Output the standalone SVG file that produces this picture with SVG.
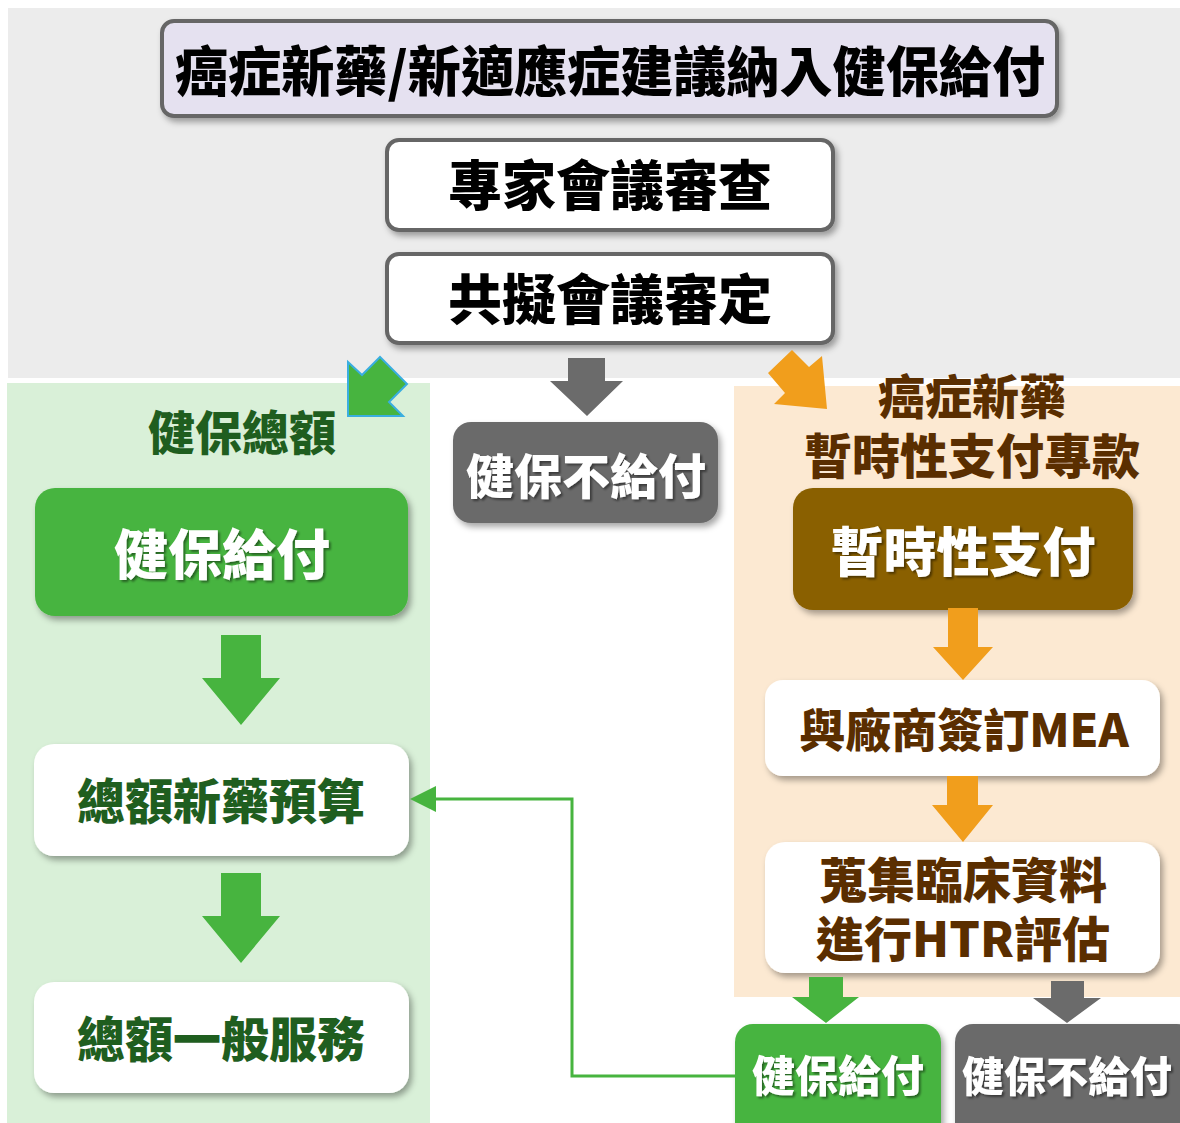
<svg xmlns="http://www.w3.org/2000/svg" width="1180" height="1123" viewBox="0 0 1180 1123">
<defs>
<filter id="sh" x="-10%" y="-10%" width="130%" height="140%"><feDropShadow dx="3" dy="4" stdDeviation="3" flood-color="#000" flood-opacity="0.35"/></filter>
<filter id="tsh" x="-5%" y="-5%" width="115%" height="120%"><feDropShadow dx="2" dy="2" stdDeviation="1.2" flood-color="#000" flood-opacity="0.45"/></filter>
<style>
text{font-family:"Noto Sans CJK TC","Noto Sans CJK SC",sans-serif;font-weight:900;text-anchor:middle}
.bx{stroke:#666;stroke-width:4}
.wt{fill:#fff}
.dg{fill:#1f5e1f}
.br{fill:#5a2e00}
.bk{fill:#000}
.green{fill:#47b43f}
.gray{fill:#6b6b6b}
.orange{fill:#f19e1c}
</style>
</defs>
<rect x="0" y="0" width="1180" height="1123" fill="#fff"/>
<rect x="8" y="8" width="1172" height="370" fill="#ececec"/>
<rect x="7" y="383" width="423" height="740" fill="#d9f0d8"/>
<rect x="734" y="386" width="446" height="611" fill="#fce9d2"/>

<g id="title"><rect class="bx" x="162" y="21" width="895" height="95" rx="12" fill="#e5e1f0" filter="url(#sh)"/>
<text class="bk" x="610" y="92" font-size="54" textLength="870" lengthAdjust="spacingAndGlyphs">癌症新藥/新適應症建議納入健保給付</text></g>
<g id="expert"><rect class="bx" x="387" y="140" width="446" height="90" rx="12" fill="#fff" filter="url(#sh)"/>
<text class="bk" x="610" y="206" font-size="54">專家會議審查</text></g>
<g id="consensus"><rect class="bx" x="387" y="254" width="446" height="89" rx="12" fill="#fff" filter="url(#sh)"/>
<text class="bk" x="610" y="320" font-size="54">共擬會議審定</text></g>

<g id="globalLabel"><text class="dg" x="242" y="450" font-size="47">健保總額</text></g>
<g id="payLeft"><rect class="green" x="35" y="488" width="373" height="128" rx="20" filter="url(#sh)"/>
<text class="wt" x="222" y="575" font-size="54" filter="url(#tsh)">健保給付</text></g>
<g id="budget"><rect x="34" y="744" width="375" height="112" rx="20" fill="#fff" filter="url(#sh)"/>
<text class="dg" x="221" y="819" font-size="48">總額新藥預算</text></g>
<g id="general"><rect x="34" y="982" width="375" height="111" rx="20" fill="#fff" filter="url(#sh)"/>
<text class="dg" x="221" y="1057" font-size="48">總額一般服務</text></g>

<g id="noPayMid"><rect class="gray" x="453" y="422" width="265" height="101" rx="18" filter="url(#sh)"/>
<text class="wt" x="586" y="494" font-size="48" filter="url(#tsh)">健保不給付</text></g>

<g id="fundLabel"><text class="br" x="972" y="414" font-size="47">癌症新藥</text>
<text class="br" x="972" y="474" font-size="48">暫時性支付專款</text></g>
<g id="tempPay"><rect x="793" y="488" width="340" height="122" rx="20" fill="#8a6000" filter="url(#sh)"/>
<text class="wt" x="963" y="572" font-size="53" filter="url(#tsh)">暫時性支付</text></g>
<g id="mea"><rect x="765" y="680" width="395" height="96" rx="18" fill="#fff" filter="url(#sh)"/>
<text class="br" x="964" y="747" font-size="46">與廠商簽訂MEA</text></g>
<g id="htr"><rect x="765" y="842" width="395" height="131" rx="20" fill="#fff" filter="url(#sh)"/>
<text class="br" x="963" y="898" font-size="48">蒐集臨床資料</text>
<text class="br" x="963" y="957" font-size="48">進行HTR評估</text></g>
<g id="payBottom"><rect class="green" x="735" y="1024" width="206" height="120" rx="18" filter="url(#sh)"/>
<text class="wt" x="838" y="1092" font-size="43" filter="url(#tsh)">健保給付</text></g>
<g id="noPayBottom"><rect class="gray" x="955" y="1024" width="240" height="120" rx="18" filter="url(#sh)"/>
<text class="wt" x="1067" y="1092" font-size="42" filter="url(#tsh)">健保不給付</text></g>

<g id="connectors">
<polygon class="gray" points="568,358 605,358 605,381 623,381 587,416 550,381 568,381"/>
<polygon class="green" points="348,362 362,375 380,357 407,384 389,402 403,416 348,416" stroke="#3aaee0" stroke-width="2" stroke-linejoin="miter"/>
<polygon class="orange" points="792,350 809,367 822,356 827,409 774,404 785,393 768,373"/>
<polygon class="green" points="221,635 261,635 261,678 280,678 241,725 202,678 221,678"/>
<polygon class="green" points="221,873 261,873 261,916 280,916 241,963 202,916 221,916"/>
<polygon class="orange" points="948,608 978,608 978,647 993,647 963,680 933,647 948,647"/>
<polygon class="orange" points="947,776 978,776 978,805 993,805 963,842 932,805 947,805"/>
<polygon class="green" points="809,977 843,977 843,997 859,997 826,1023 792,997 809,997"/>
<polygon class="gray" points="1051,981 1084,981 1084,998 1101,998 1067,1023 1033,998 1051,998"/>
<polyline points="735,1076 572,1076 572,799 432,799" fill="none" stroke="#47b43f" stroke-width="3"/>
<polygon class="green" points="410,799 436,786 436,812"/>
</g>
</svg>
